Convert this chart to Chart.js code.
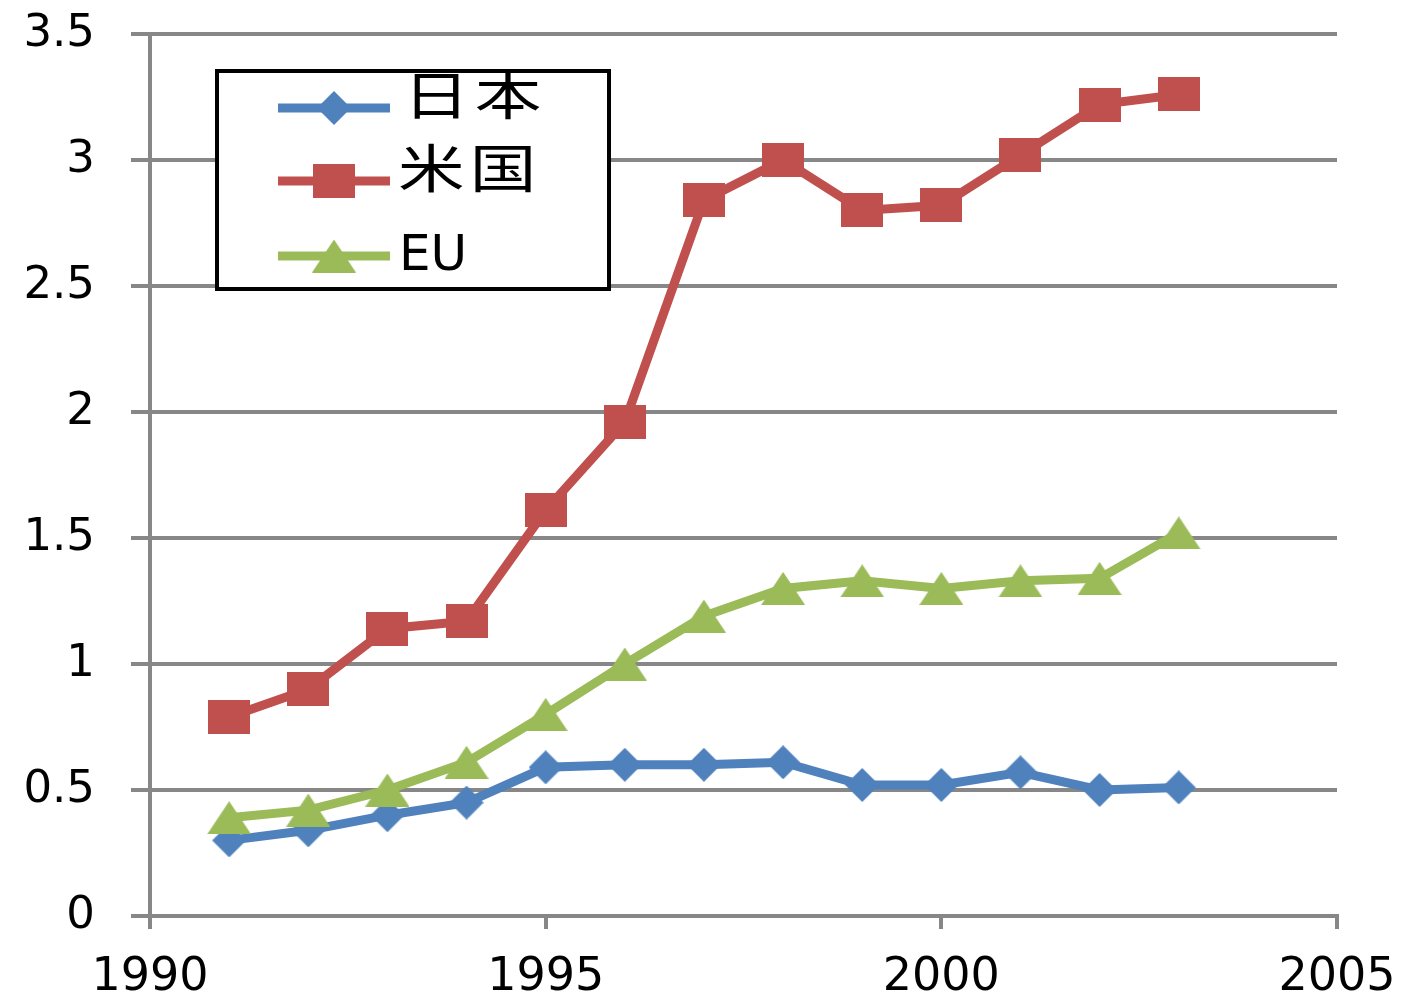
<!DOCTYPE html>
<html>
<head>
<meta charset="utf-8">
<script src="https://cdn.jsdelivr.net/npm/chart.js@4"></script>
<style>
html,body{margin:0;padding:0;background:#fff;}
#wrap{width:1406px;height:1002px;position:relative;}
</style>
</head>
<body>
<div id="wrap"><canvas id="c" width="1406" height="1002"></canvas></div>
<script>
const years = [1991, 1992, 1993, 1994, 1995, 1996, 1997, 1998, 1999, 2000, 2001, 2002, 2003];
const japan = [0.30, 0.34, 0.40, 0.45, 0.59, 0.60, 0.60, 0.61, 0.52, 0.52, 0.57, 0.50, 0.51];
const usa   = [0.79, 0.90, 1.14, 1.17, 1.61, 1.96, 2.84, 3.00, 2.80, 2.82, 3.02, 3.22, 3.26];
const eu    = [0.39, 0.42, 0.50, 0.61, 0.80, 1.00, 1.19, 1.30, 1.33, 1.30, 1.33, 1.34, 1.52];
const seriesNames = ['日本', '米国', 'EU'];
const xTicks = [1990, 1995, 2000, 2005];
const yTicks = [0, 0.5, 1, 1.5, 2, 2.5, 3, 3.5];

const BLUE = '#4F81BD', RED = '#C0504D', GREEN = '#9BBB59', GRID = '#878787';
const FONT = '"DejaVu Sans", "Noto Sans CJK JP", sans-serif';

function marker(shape, w, h, color) {
  const c = document.createElement('canvas');
  c.width = w; c.height = h;
  const g = c.getContext('2d');
  g.fillStyle = color;
  g.beginPath();
  if (shape === 'rect') { g.rect(0, 0, w, h); }
  else if (shape === 'diamond') { g.moveTo(w/2, 0); g.lineTo(w, h/2); g.lineTo(w/2, h); g.lineTo(0, h/2); g.closePath(); }
  else { g.moveTo(w/2, 0); g.lineTo(w, h); g.lineTo(0, h); g.closePath(); }
  g.fill();
  return c;
}
const mkDiamond = marker('diamond', 34, 34, BLUE);
const mkRect = marker('rect', 42, 34, RED);
const mkTri = marker('tri', 44, 33, GREEN);

function pts(vals) { return years.map((y, i) => ({x: y, y: vals[i]})); }

const legendBox = {
  id: 'legendBox',
  afterDraw(chart) {
    const ctx = chart.ctx;
    ctx.save();
    ctx.fillStyle = '#fff';
    ctx.fillRect(217, 71, 392, 218);
    ctx.strokeStyle = '#000';
    ctx.lineWidth = 4;
    ctx.strokeRect(217, 71, 392, 218);
    const rows = [108, 181, 256];
    chart.data.datasets.forEach((ds, i) => {
      const y = rows[i];
      ctx.strokeStyle = ds.borderColor;
      ctx.lineWidth = 9;
      ctx.beginPath(); ctx.moveTo(278, y); ctx.lineTo(390, y); ctx.stroke();
      const img = ds.pointStyle;
      ctx.drawImage(img, 334 - img.width/2, y - img.height/2);
      ctx.fillStyle = '#000';
      ctx.textBaseline = 'middle';
      ctx.textAlign = 'left';
      if (i < 2) {
        ctx.save();
        ctx.font = '52px ' + FONT;
        ctx.letterSpacing = '4px';
        ctx.translate(i === 0 ? 403 : 398, y - 7);
        ctx.scale(1.28, 1);
        ctx.fillText(ds.label, 0, 0);
        ctx.restore();
      } else {
        ctx.font = '50px ' + FONT;
        ctx.fillText(ds.label, 399, y + 1);
      }
    });
    ctx.restore();
  }
};

new Chart(document.getElementById('c'), {
  type: 'line',
  data: {
    datasets: [
      {label: seriesNames[0], data: pts(japan), borderColor: BLUE, backgroundColor: BLUE, pointStyle: mkDiamond, borderWidth: 9, order: 2},
      {label: seriesNames[1], data: pts(usa), borderColor: RED, backgroundColor: RED, pointStyle: mkRect, borderWidth: 9, order: 1},
      {label: seriesNames[2], data: pts(eu), borderColor: GREEN, backgroundColor: GREEN, pointStyle: mkTri, borderWidth: 9, order: 0}
    ]
  },
  options: {
    responsive: false,
    animation: false,
    devicePixelRatio: 1,
    layout: {padding: {top: 34, right: 69, left: 0, bottom: 0}},
    plugins: {legend: {display: false}, tooltip: {enabled: false}},
    elements: {line: {tension: 0}},
    scales: {
      x: {
        type: 'linear', min: xTicks[0], max: xTicks[xTicks.length - 1],
        afterBuildTicks(s) { s.ticks = xTicks.map(v => ({value: v})); },
        afterFit(s) { s.height = 86; s.paddingLeft = 0; s.paddingRight = 0; },
        grid: {drawOnChartArea: false, drawTicks: true, tickLength: 13, color: GRID, lineWidth: 4},
        border: {display: true, color: GRID, width: 4},
        ticks: {color: '#000', font: {family: FONT, size: 46}, padding: 21, maxRotation: 0, callback: v => String(v)}
      },
      y: {
        min: yTicks[0], max: yTicks[yTicks.length - 1],
        afterBuildTicks(s) { s.ticks = yTicks.map(v => ({value: v})); },
        afterFit(s) { s.width = 150; s.paddingTop = 0; s.paddingBottom = 0; },
        grid: {color: GRID, lineWidth: 4, tickLength: 19, drawTicks: true},
        border: {display: true, color: GRID, width: 4},
        ticks: {color: '#000', font: {family: FONT, size: 45}, padding: 36, callback: v => String(v)}
      }
    }
  },
  plugins: [legendBox]
});
</script>
</body>
</html>
